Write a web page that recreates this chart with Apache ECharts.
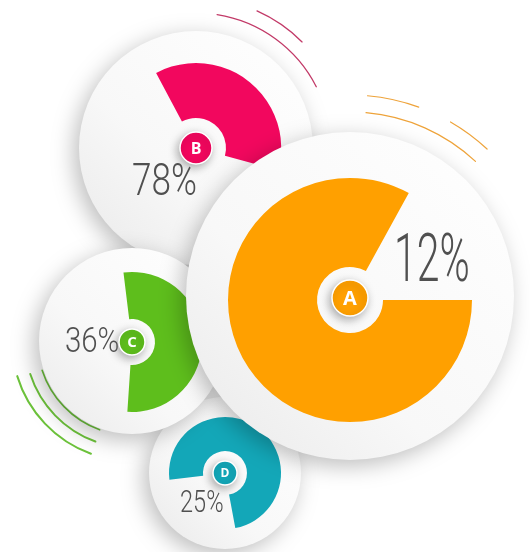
<!DOCTYPE html>
<html><head><meta charset="utf-8">
<script src="https://cdn.jsdelivr.net/npm/echarts@6/dist/echarts.min.js"></script>
<style>html,body{margin:0;padding:0;background:#fff}#c{width:530px;height:552px}</style>
</head><body><div id="c"></div>
<script>
// ---- data ----
const categories = ['A', 'B', 'C', 'D'];
const percentLabels = [12, 78, 36, 25];          // text printed beside each badge
const sectorShare = [83, 37, 53, 74];            // % of each dial filled by its coloured sector
const sectorColors = ['#ffa000', '#f2075e', '#5ebe1c', '#13a7b8'];
const arcColors = ['#eea33a', '#c23a68', '#6cc23a'];

// ---- layout (drawing order: B, D, C, A) ----
const layout = [
  { i: 1, cx: 196, cy: 148, r: 117, pcx: 196, pcy: 148, ri: 30, ro: 85, start: 118, br: 16, bfs: 16, tx: 132, ty: 184, tfs: 45, sx: 0.78, w: 300 },
  { i: 3, cx: 225, cy: 473, r: 76, pcx: 225, pcy: 473, ri: 22, ro: 56, start: 187, br: 12, bfs: 12, tx: 180, ty: 504, tfs: 31, sx: 0.76, w: 300 },
  { i: 2, cx: 132, cy: 341, r: 93, pcx: 132, pcy: 342, ri: 23, ro: 70, start: 97, br: 13, bfs: 15, tx: 65, ty: 343, tfs: 35, sx: 0.84, w: 300 },
  { i: 0, cx: 350, cy: 296, r: 164, pcx: 350, pcy: 300, ri: 33, ro: 122, start: 0, br: 18, bfs: 20, tx: 394, ty: 264, tfs: 66, sx: 0.62, w: 300 }
];
const decoArcs = [
  { c: 0, cx: 350, cy: 296, r: 201, a0: 70, a1: 85, w: 1.2 },
  { c: 0, cx: 350, cy: 296, r: 184, a0: 47, a1: 85, w: 1.2 },
  { c: 0, cx: 350, cy: 296, r: 201, a0: 47, a1: 60, w: 1.2 },
  { c: 1, cx: 196, cy: 148, r: 135, a0: 27, a1: 81, w: 1.3 },
  { c: 1, cx: 196, cy: 148, r: 150, a0: 45, a1: 66, w: 1.3 },
  { c: 2, cx: 132, cy: 341, r: 94.5, a0: 198, a1: 250, w: 1.6 },
  { c: 2, cx: 132, cy: 341, r: 107, a0: 198, a1: 250, w: 2 },
  { c: 2, cx: 132, cy: 341, r: 120, a0: 197, a1: 250, w: 2 }
];

const D2R = Math.PI / 180;
const series = [];
const graphics = [];

decoArcs.forEach(a => {
  graphics.push({
    type: 'arc', z: 0,
    shape: { cx: a.cx, cy: a.cy, r: a.r, startAngle: -a.a1 * D2R, endAngle: -a.a0 * D2R, clockwise: true },
    style: { stroke: arcColors[a.c], lineWidth: a.w, fill: null, lineCap: 'round' }
  });
});

layout.forEach((g, k) => {
  const base = 1 + k * 10;
  const i = g.i;
  // dial disk
  graphics.push({
    type: 'circle', z: base,
    shape: { cx: g.cx, cy: g.cy, r: g.r },
    style: {
      fill: new echarts.graphic.LinearGradient(1, 0, 0, 1, [
        { offset: 0, color: '#ffffff' }, { offset: 0.6, color: '#f8f8f8' }, { offset: 1, color: '#e9e9e9' }
      ]),
      shadowBlur: 22, shadowColor: 'rgba(0,0,0,0.26)', shadowOffsetX: -5, shadowOffsetY: 6
    }
  });
  // coloured sector
  series.push({
    type: 'pie', z: base + 1, silent: true, animation: false,
    center: [g.pcx, g.pcy], radius: [g.ri, g.ro],
    startAngle: g.start, clockwise: true,
    label: { show: false }, labelLine: { show: false },
    emphasis: { disabled: true },
    data: [
      { name: categories[i], value: sectorShare[i], itemStyle: { color: sectorColors[i] } },
      { name: '', value: 100 - sectorShare[i], itemStyle: { color: 'rgba(0,0,0,0)' } }
    ]
  });
  // badge
  graphics.push({
    type: 'circle', z: base + 2,
    shape: { cx: g.pcx, cy: g.pcy - (i === 0 ? 2 : 0), r: g.br },
    style: { fill: sectorColors[i], stroke: '#ffffff', lineWidth: 1.5,
      shadowBlur: 8, shadowColor: 'rgba(0,0,0,0.3)', shadowOffsetX: -2, shadowOffsetY: 3 }
  });
  graphics.push({
    type: 'text', z: base + 3,
    x: g.pcx, y: g.pcy - (i === 0 ? 2 : 0) + 1,
    style: { text: categories[i], fill: '#ffffff', font: 'bold ' + g.bfs + 'px "Open Sans", sans-serif',
      textAlign: 'center', textVerticalAlign: 'middle' }
  });
  // percentage text
  graphics.push({
    type: 'text', z: base + 3,
    x: g.tx, y: g.ty, scaleX: g.sx,
    style: { text: percentLabels[i] + '%', fill: '#505050', font: g.w + ' ' + g.tfs + 'px Roboto, sans-serif',
      textAlign: 'left', textVerticalAlign: 'middle' }
  });
});

const chart = echarts.init(document.getElementById('c'), null, { renderer: 'canvas' });
chart.setOption({ backgroundColor: '#ffffff', animation: false, series: series, graphic: { elements: graphics } });
</script>
</body></html>
